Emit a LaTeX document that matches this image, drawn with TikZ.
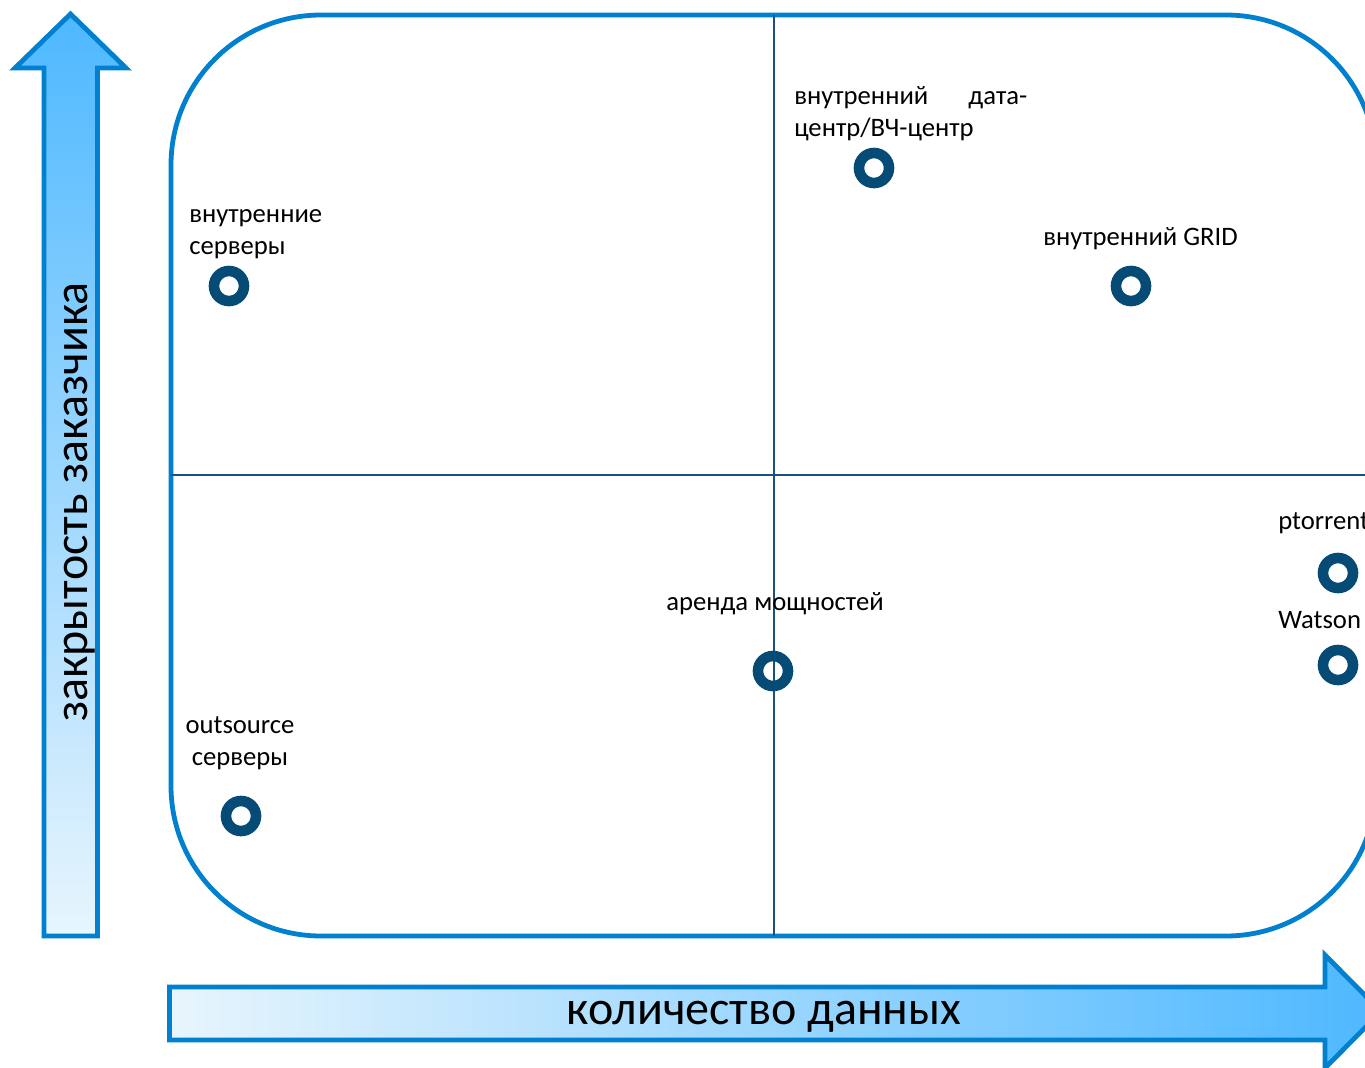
\documentclass[tikz,border=0pt]{standalone}
\usepackage{fontspec}
\setmainfont{Carlito}
\definecolor{outl}{RGB}{0,128,206}
\definecolor{fdark}{RGB}{78,184,255}
\definecolor{flight}{RGB}{232,245,253}
\definecolor{ringc}{RGB}{6,74,118}
\definecolor{gridc}{RGB}{25,80,125}
\begin{document}
\begin{tikzpicture}[x=0.75pt,y=-0.75pt,
  frame/.style={draw=outl,line width=3.6pt},
  bigarrow/.style={draw=outl,line width=3.6pt,line join=miter},
  quad/.style={draw=gridc,line width=1.1pt},
  ring/.style={circle,draw=ringc,line width=7.95pt,minimum size=22.5pt,inner sep=0pt},
  lbl/.style={font=\fontsize{20}{24}\selectfont,inner sep=0pt,anchor=base west,align=left},
  axis/.style={font=\fontsize{36}{42}\selectfont,inner sep=0pt,anchor=base}]
\useasboundingbox (0,0) rectangle (1365,1068);
\clip (0,0) rectangle (1365,1068);
% frame
\draw[frame,rounded corners=112.5pt] (171,15) rectangle (1376,936);
% quadrant lines
\coordinate (vt) at (774,15);
\coordinate (vb) at (774,936);
\coordinate (hl) at (171,475);
\coordinate (hr) at (1376,475);
\draw[quad] (vt) -- (vb);
\draw[quad] (hl) -- (hr);
% vertical arrow
\path[bigarrow,top color=fdark,bottom color=flight]
  (44,936) -- (44,68) -- (15,68) -- (70.5,14) -- (126,68) -- (97.5,68) -- (97.5,936) -- cycle;
\node[axis,rotate=90] (ylab) at (87,502) {закрытость заказчика};
% horizontal arrow
\path[bigarrow,left color=flight,right color=fdark]
  (169.5,987) -- (1325,987) -- (1325,955) -- (1381,1011.5) -- (1325,1068) -- (1325,1040) -- (169.5,1040) -- cycle;
\node[axis] (xlab) at (764,1024) {количество данных};
% markers
\node[ring] (dc) at (874,168) {};
\node[ring] (srv) at (229,286) {};
\node[ring] (grid) at (1131,286) {};
\node[ring] (rent) at (773,671) {};
\node[ring] (out) at (241,816) {};
\node[ring] (pt) at (1338,573) {};
\node[ring] (wat) at (1338,665) {};
% labels
\node[lbl,text width=174.75pt] (ldc) at (794,104) {внутренний\hfill дата-\\центр/ВЧ-центр};
\node[lbl] (lsrv) at (189,254) {внутренние\\серверы};
\node[lbl] (lgrid) at (1043,245) {внутренний GRID};
\node[lbl] (lrent) at (666,610) {аренда мощностей};
\node[lbl,align=center,anchor=base] (lout) at (240,765) {outsource\\серверы};
\node[lbl] (lpt) at (1278,529) {ptorrent};
\node[lbl] (lwat) at (1278,628) {Watson};
\end{tikzpicture}
\end{document}
